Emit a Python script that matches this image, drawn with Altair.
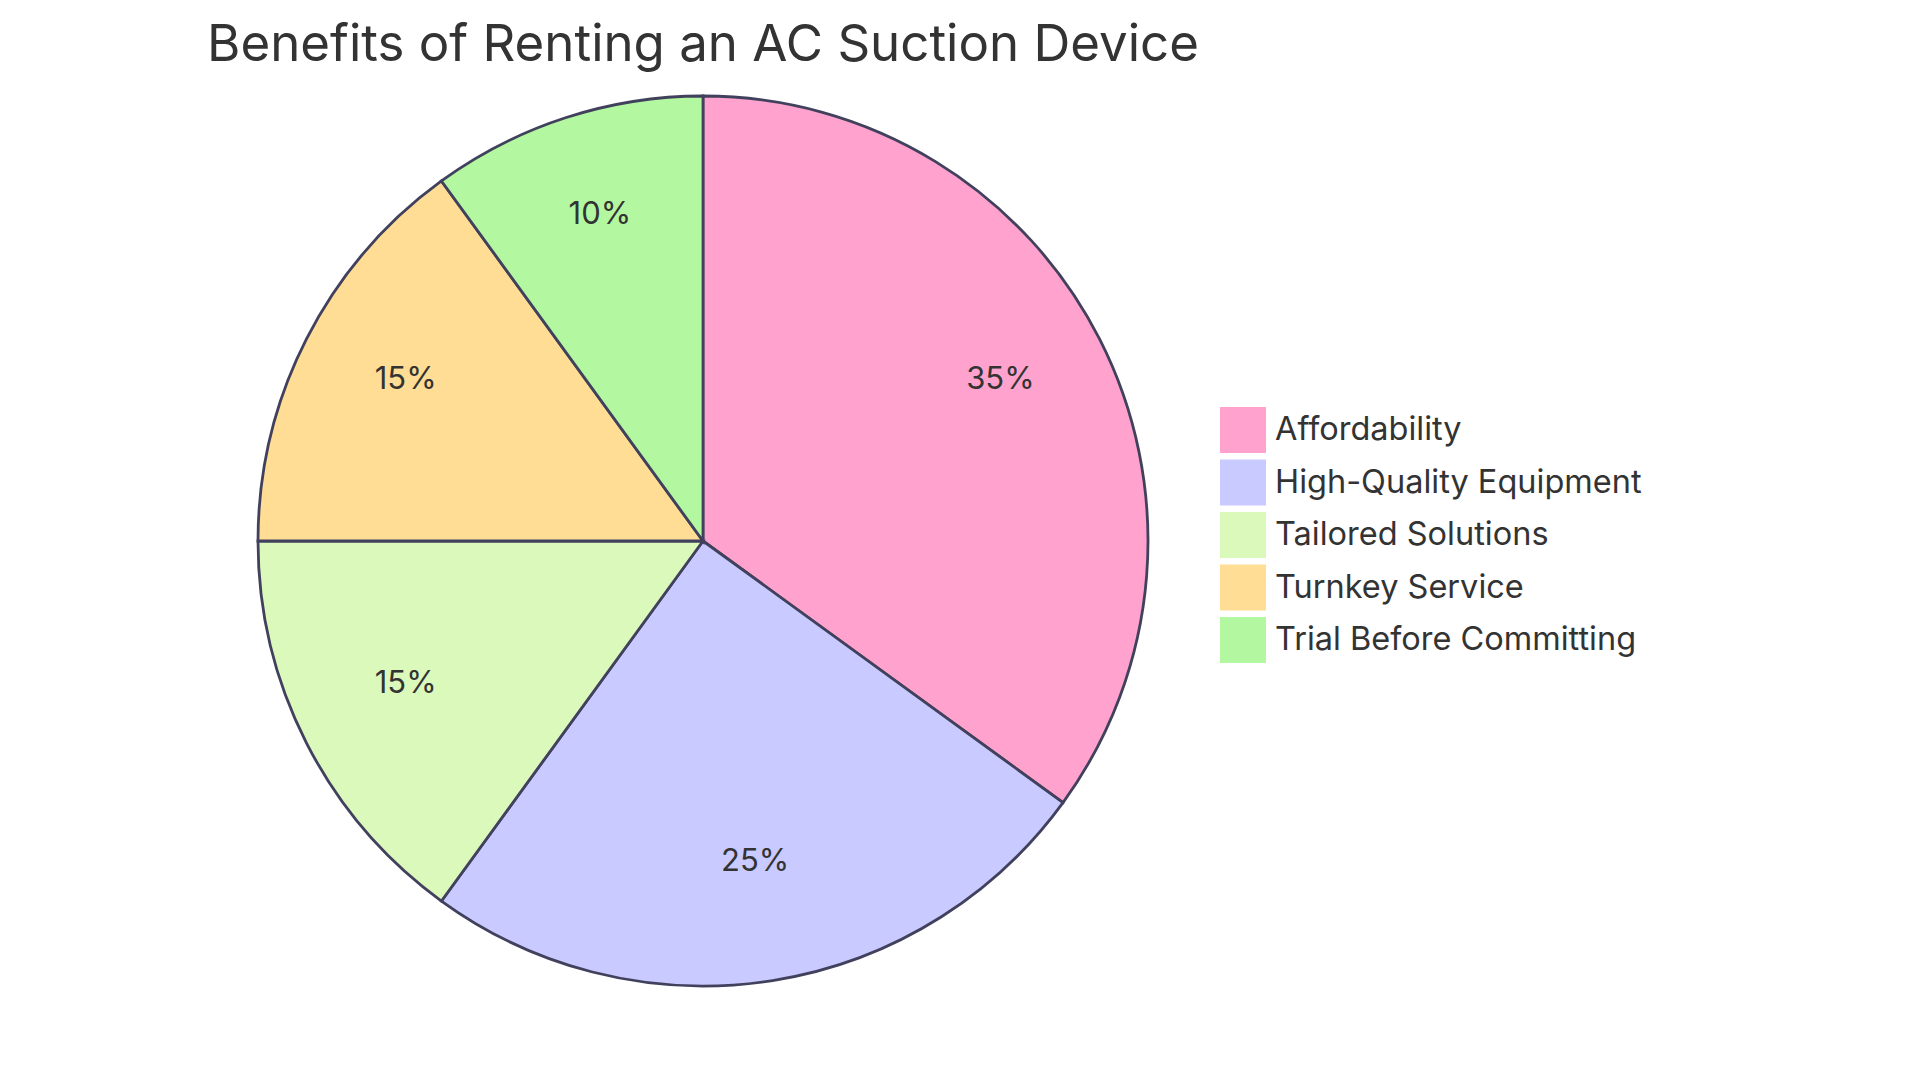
import altair as alt
import pandas as pd

categories = ["Affordability", "High-Quality Equipment", "Tailored Solutions", "Turnkey Service", "Trial Before Committing"]
values = [35, 25, 15, 15, 10]
colors = ["#FFA3CE", "#C9CAFF", "#DCF9BC", "#FFDD95", "#B3F8A0"]
title_text = "Benefits of Renting an AC Suction Device"

df = pd.DataFrame({"cat": categories, "val": values, "order": list(range(len(categories)))})
df["label"] = [f"{v}%" for v in values]

CX, CY, R = 695, 533, 445
FONT = "Inter"

base = alt.Chart(df).encode(
    theta=alt.Theta("val:Q", stack=True),
    order=alt.Order("order:Q"),
)

arcs = base.mark_arc(outerRadius=R, stroke="#41415E", strokeWidth=2.8).encode(
    x=alt.value(CX), y=alt.value(CY),
    color=alt.Color(
        "cat:N",
        scale=alt.Scale(domain=categories, range=colors),
        sort=categories,
        legend=alt.Legend(
            title=None, orient="none", legendX=1212, legendY=399,
            symbolType="square", symbolSize=2116, symbolStrokeWidth=0,
            labelFontSize=32.5, labelFont=FONT, labelColor="#333333",
            labelOffset=9, rowPadding=6.5, padding=0, labelLimit=600,
        ),
    ),
)

labels = base.mark_text(radius=R * 0.75, fontSize=31, font=FONT, color="#333333",
                        baseline="alphabetic").encode(
    x=alt.value(CX), y=alt.value(CY), text="label:N"
)

title = alt.Chart(pd.DataFrame({"t": [title_text]})).mark_text(
    fontSize=51, font=FONT, color="#333333", align="center", baseline="alphabetic"
).encode(x=alt.value(CX), y=alt.value(53), text="t:N")

chart = alt.layer(arcs, labels, title).properties(
    width=1900, height=1060,
    autosize=alt.AutoSizeParams(type="none"),
    padding=0,
).configure_view(stroke=None)

chart.save("out.html", embed_options={"renderer": "svg", "actions": False})
